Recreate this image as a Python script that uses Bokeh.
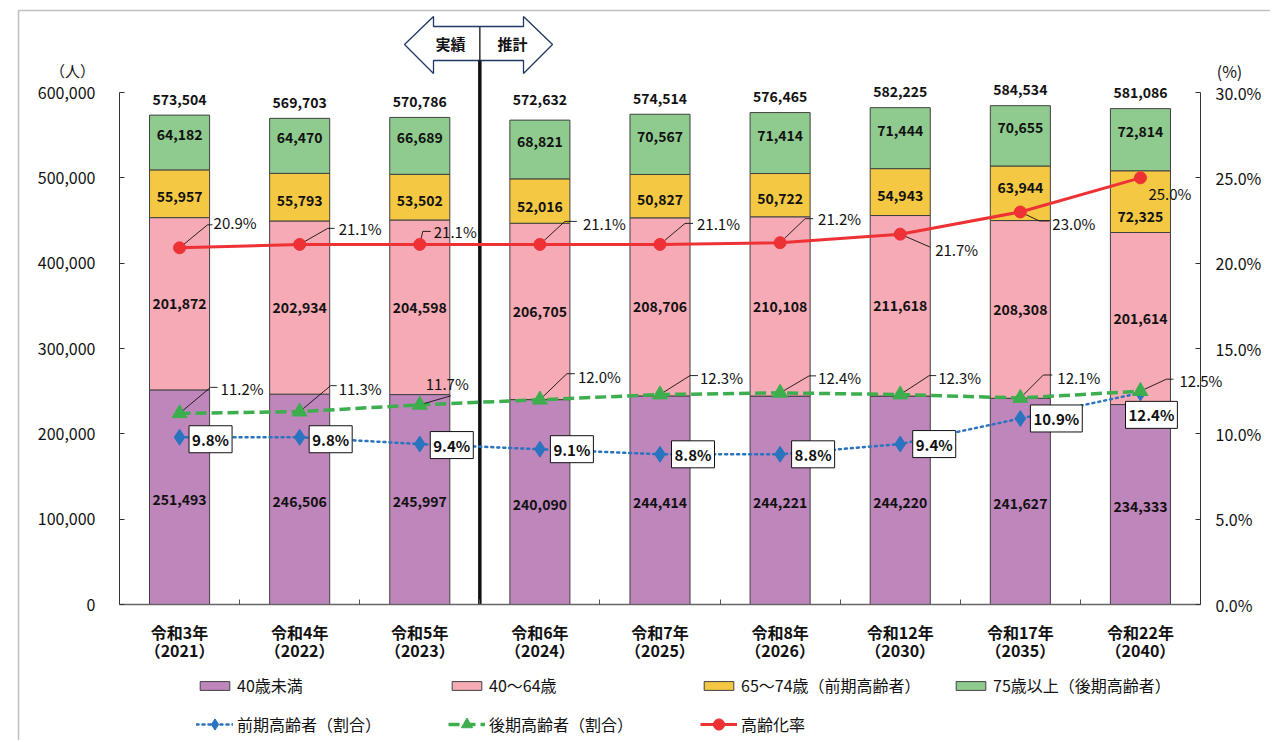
from bokeh.plotting import figure
from bokeh.models import (Range1d, LinearAxis, FixedTicker, NumeralTickFormatter,
                          PrintfTickFormatter, Legend, LegendItem, BoxAnnotation, Label)
from bokeh.core.properties import value
from bokeh.embed import file_html
from bokeh.resources import INLINE

# ---------------- data ----------------
years_jp = ["令和3年", "令和4年", "令和5年", "令和6年", "令和7年", "令和8年",
            "令和12年", "令和17年", "令和22年"]
years_ad = ["（2021）", "（2022）", "（2023）", "（2024）", "（2025）", "（2026）",
            "（2030）", "（2035）", "（2040）"]
actual_count = 3  # 実績 = first three years
under40 = [251493, 246506, 245997, 240090, 244414, 244221, 244220, 241627, 234333]
age40_64 = [201872, 202934, 204598, 206705, 208706, 210108, 211618, 208308, 201614]
age65_74 = [55957, 55793, 53502, 52016, 50827, 50722, 54943, 63944, 72325]
age75over = [64182, 64470, 66689, 68821, 70567, 71414, 71444, 70655, 72814]
totals = [573504, 569703, 570786, 572632, 574514, 576465, 582225, 584534, 581086]
early_ratio = [9.8, 9.8, 9.4, 9.1, 8.8, 8.8, 9.4, 10.9, 12.4]
late_ratio = [11.2, 11.3, 11.7, 12.0, 12.3, 12.4, 12.3, 12.1, 12.5]
aging_rate = [20.9, 21.1, 21.1, 21.1, 21.1, 21.2, 21.7, 23.0, 25.0]
left_ticks = [0, 100000, 200000, 300000, 400000, 500000, 600000]
right_ticks = [0, 5, 10, 15, 20, 25, 30]
series_names = ["40歳未満", "40～64歳", "65～74歳（前期高齢者）", "75歳以上（後期高齢者）"]
line_names = ["前期高齢者（割合）", "後期高齢者（割合）", "高齢化率"]

# ---------------- layout / style ----------------
FONT = "Noto Sans CJK JP"
W, H = 1270, 740
FL, FR, FB = 119, 1200, 604     # axis positions in canvas pixels
Y_TOP_PX = 92                    # canvas y of 600,000 / 30%
LEFT_MAX, PCT_MAX = 600000, 30
N = len(years_jp)
ppx = (FB - Y_TOP_PX) / LEFT_MAX
cat_px = (FR - FL) / N


def px2x(px):
    return (px - FL) / cat_px


def py2y(py):
    return (FB - py) / ppx


def py2pct(py):
    return (FB - py) * PCT_MAX / (FB - Y_TOP_PX)


def dpx2pct(d):
    return -d * PCT_MAX / (FB - Y_TOP_PX)


bar_colors = ["#BF86BC", "#F6AAB5", "#F4C842", "#8FCB8F"]
c_blue, c_green, c_red = "#2A73BF", "#3DAE4E", "#EE3135"
txt_color = "#111111"

p = figure(width=W, height=H, x_range=Range1d(px2x(0), px2x(W)),
           y_range=Range1d(py2y(H), py2y(0)),
           x_axis_location=None, y_axis_location=None,
           output_backend="svg", toolbar_location=None, min_border=0)
p.extra_y_ranges = {"pct": Range1d(py2pct(H), py2pct(0))}
for g in p.grid:
    g.visible = False
p.outline_line_color = None
p.background_fill_color = "white"
p.border_fill_color = "white"

xs = [i + 0.5 for i in range(N)]


def style_axis(ax, size="16px", bold=False):
    ax.major_label_text_font = FONT
    ax.major_label_text_font_size = size
    ax.major_label_text_color = txt_color
    if bold:
        ax.major_label_text_font_style = "bold"


# left axis
ya = LinearAxis(fixed_location=0, ticker=FixedTicker(ticks=left_ticks),
                formatter=NumeralTickFormatter(format="0,0"), bounds=(0, LEFT_MAX))
ya.major_tick_in = 5
ya.major_tick_out = 0
ya.minor_tick_line_color = None
ya.major_label_standoff = 24
ya.axis_line_color = "#333333"
ya.major_tick_line_color = "#333333"
style_axis(ya)
p.add_layout(ya, "left")

# right axis
ra = LinearAxis(y_range_name="pct", fixed_location=N, ticker=FixedTicker(ticks=right_ticks),
                formatter=PrintfTickFormatter(format="%.1f%%"), bounds=(0, PCT_MAX))
ra.major_tick_in = 5
ra.major_tick_out = 0
ra.minor_tick_line_color = None
ra.major_label_standoff = 15
ra.axis_line_color = "#333333"
ra.major_tick_line_color = "#333333"
style_axis(ra)
p.add_layout(ra, "right")

# bottom axis (era names)
xa = LinearAxis(fixed_location=0, ticker=FixedTicker(ticks=xs, minor_ticks=list(range(1, N))),
                bounds=(0, N))
xa.major_label_overrides = {x: c for x, c in zip(xs, years_jp)}
xa.major_tick_line_color = None
xa.minor_tick_in = 5
xa.minor_tick_out = 0
xa.minor_tick_line_color = "#555555"
xa.axis_line_color = "#666666"
xa.axis_line_width = 1.5
xa.major_label_standoff = 9
style_axis(xa, bold=True)
p.add_layout(xa, "below")

# bottom axis second line (western years)
xa2 = LinearAxis(fixed_location=0, ticker=FixedTicker(ticks=xs), bounds=(0, N))
xa2.major_label_overrides = {x: c for x, c in zip(xs, years_ad)}
xa2.major_tick_line_color = None
xa2.minor_tick_line_color = None
xa2.axis_line_color = None
xa2.major_label_standoff = 27
style_axis(xa2, bold=True)
p.add_layout(xa2, "below")

# outer frame of the figure box
p.add_layout(BoxAnnotation(left=px2x(18), right=px2x(W + 50), top=py2y(10), bottom=py2y(H + 50),
                           fill_alpha=0, line_color="#333333", line_width=1.5))

# stacked bars
src = dict(x=xs, a=under40, b=age40_64, c=age65_74, d=age75over)
bars = p.vbar_stack(["a", "b", "c", "d"], x="x", width=0.5, source=src,
                    fill_color=bar_colors, line_color="#404040", line_width=1)

# segment labels
seg_offsets = [
    [2] * 9,
    [0] * 9,
    [3, 3, 3, 5, 3, 3, 3, -6, 15],
    [-8] * 9,
]
series = [under40, age40_64, age65_74, age75over]
base = [0] * N
for k, vals in enumerate(series):
    mids = [b + v / 2 for b, v in zip(base, vals)]
    p.text(x=xs, y=mids, text=[f"{v:,}" for v in vals], y_offset=seg_offsets[k],
           text_align="center", text_baseline="middle", text_font=value(FONT),
           text_font_size="14px", text_font_style="bold", text_color=txt_color)
    base = [b + v for b, v in zip(base, vals)]

# totals
p.text(x=xs, y=totals, text=[f"{v:,}" for v in totals], y_offset=-16,
       text_align="center", text_baseline="middle", text_font=value(FONT),
       text_font_size="14px", text_font_style="bold", text_color=txt_color)

# 実績 / 推計 divider and arrow
arrow_px = [(404, 44), (433, 16), (433, 26), (523, 26), (523, 16), (552, 44),
            (523, 73), (523, 60), (433, 60), (433, 73)]
p.patch([px2x(a) for a, b in arrow_px], [py2y(b) for a, b in arrow_px],
        fill_color="white", line_color="#1F3864", line_width=1.3)
p.line([actual_count, actual_count], [py2y(26), py2y(60)], line_color="#333333", line_width=1.5)
p.line([actual_count, actual_count], [0, py2y(60)], line_color="#111111", line_width=3.5)
p.text(x=[px2x(450), px2x(512)], y=[py2y(43), py2y(43)], text=["実績", "推計"],
       text_align="center", text_baseline="middle", text_font=value(FONT),
       text_font_size="15px", text_font_style="bold", text_color=txt_color)

# lines
r_early_l = p.line(xs, early_ratio, y_range_name="pct", line_color=c_blue, line_width=2.5,
                   line_dash="2 4", line_cap="round")
r_late_l = p.line(xs, late_ratio, y_range_name="pct", line_color=c_green, line_width=3.5,
                  line_dash="11 5")
r_rate_l = p.line(xs, aging_rate, y_range_name="pct", line_color=c_red, line_width=3)

# leader lines + labels (offsets in screen px: text dx,dy; elbow ex,ey; horizontal length)
rate_lab = dict(dx=[34, 39, 14, 43, 37, 38, 35, 32, 8],
                dy=[-25, -16, -13, -21, -21, -24, 15, 12, 16],
                ex=[28, 28, 3, 25, 25, 25, 30, 19, None],
                ey=[-23, -16, -13, -23, -21, -24, 13, 9, None],
                h=[5, 7, 8, 12, 8, 8, 0, 10, 0])
late_lab = dict(dx=[41, 39, 6, 38, 40, 38, 38, 37, 39],
                dy=[-25, -23, -21, -23, -17, -15, -17, -20, -11],
                ex=[31, 31, 31, 27, 30, 29, 29, 23, 26],
                ey=[-26, -26, -9, -26, -19, -17, -19, -23, -12],
                h=[7, 6, 0, 8, 8, 7, 7, 9, 7])
early_lab = dict(dx=[31, 31, 32, 32, 33, 33, 34, 36, 11],
                 dy=[2, 2, 1, 0, 0, 0, 0, 0, 22])


def leaders(vals, lab):
    lx, ly = [], []
    for x, v, ex, ey, h in zip(xs, vals, lab["ex"], lab["ey"], lab["h"]):
        if ex is None:
            continue
        x1, y1 = x + ex / cat_px, v + dpx2pct(ey)
        lx.append([x, x1, x1 + h / cat_px])
        ly.append([v, y1, y1])
    return lx, ly


for vals, lab in [(aging_rate, rate_lab), (late_ratio, late_lab)]:
    lx, ly = leaders(vals, lab)
    p.multi_line(lx, ly, y_range_name="pct", line_color="#111111", line_width=0.9)

r_early_m = p.scatter(xs, early_ratio, y_range_name="pct", marker="diamond", size=16,
                      fill_color=c_blue, line_color=c_blue)
r_late_m = p.scatter(xs, late_ratio, y_range_name="pct", marker="triangle", size=15,
                     fill_color=c_green, line_color=c_green)
r_rate_m = p.scatter(xs, aging_rate, y_range_name="pct", marker="circle", size=12,
                     fill_color=c_red, line_color=c_red)

for vals, lab in [(aging_rate, rate_lab), (late_ratio, late_lab)]:
    p.text(x=xs, y=vals, text=[f"{v:.1f}%" for v in vals], x_offset=lab["dx"], y_offset=lab["dy"],
           y_range_name="pct", text_align="left", text_baseline="middle", text_font=value(FONT),
           text_font_size="15px", text_color=txt_color)

p.text(x=xs, y=early_ratio, text=[f"{v:.1f}%" for v in early_ratio],
       x_offset=early_lab["dx"], y_offset=early_lab["dy"], y_range_name="pct",
       text_align="center", text_baseline="middle", text_font=value(FONT),
       text_font_size="15px", text_font_style="bold", text_color=txt_color,
       background_fill_color="white", border_line_color="#111111", border_line_width=1,
       padding=3)

# unit labels
p.add_layout(Label(x=px2x(72), y=py2y(70), text="（人）", text_align="center", text_baseline="middle",
                   text_font=FONT, text_font_size="15px", text_color=txt_color))
p.add_layout(Label(x=px2x(1229), y=py2y(70), text="(%)", text_align="center", text_baseline="middle",
                   text_font=FONT, text_font_size="16px", text_color=txt_color))

# legends (one per entry so the grid matches the original)
legend_specs = [
    (series_names[0], [bars[0]], 196, 687, 11),
    (series_names[1], [bars[1]], 448, 687, 11),
    (series_names[2], [bars[2]], 700, 687, 11),
    (series_names[3], [bars[3]], 952, 687, 11),
    (line_names[0], [r_early_l, r_early_m], 196, 724, 28),
    (line_names[1], [r_late_l, r_late_m], 448, 724, 28),
    (line_names[2], [r_rate_l, r_rate_m], 700, 724, 28),
]
for label, rends, sx, cy, gh in legend_specs:
    item_h = max(gh, 20)
    vy = H - (cy - item_h / 2) - item_h
    lg = Legend(items=[LegendItem(label=label, renderers=rends)], location=(sx, vy),
                padding=0, margin=0, spacing=0, border_line_color=None,
                background_fill_alpha=0, glyph_width=37, glyph_height=gh, label_standoff=4,
                label_height=20, label_text_font=FONT, label_text_font_size="16px",
                label_text_color=txt_color)
    p.add_layout(lg)

open("out.html", "w").write(file_html(p, INLINE))
